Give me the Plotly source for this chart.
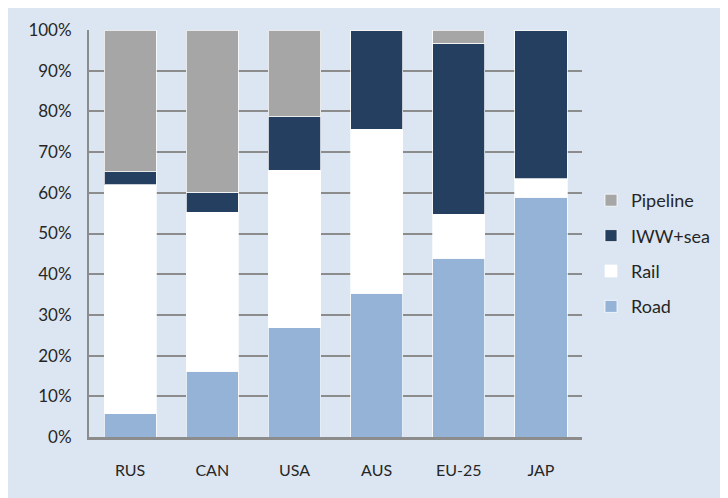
import plotly.graph_objects as go

categories = ["RUS", "CAN", "USA", "AUS", "EU-25", "JAP"]
road = [5.7, 16.2, 26.8, 35.3, 43.9, 58.9]
rail = [56.3, 39.0, 38.8, 40.3, 10.8, 4.5]
iww_sea = [3.2, 4.9, 13.1, 24.4, 42.0, 36.6]
pipeline = [34.8, 39.9, 21.3, 0.0, 3.3, 0.0]
y_ticks = [0, 10, 20, 30, 40, 50, 60, 70, 80, 90, 100]
y_tick_labels = [f"{v}%" for v in y_ticks]

series = [
    ("Road", road, "#95B3D7"),
    ("Rail", rail, "#FFFFFF"),
    ("IWW+sea", iww_sea, "#243F60"),
    ("Pipeline", pipeline, "#A6A6A6"),
]

fig = go.Figure()
for i, (name, vals, col) in enumerate(series):
    fig.add_trace(go.Bar(
        x=categories, y=vals, name=name, legendgroup=name, legendrank=100 - i,
        marker=dict(color=col, line=dict(color="rgba(255,255,255,0.75)", width=1)),
    ))

# the page body adds an 8px offset, so work in figure coordinates (screen - 8)
W, H = 720, 490
L, R, T, B = 81, 146, 22, 61
pw, ph = W - L - R, H - T - B

fig.update_layout(
    width=W, height=H,
    barmode="stack", bargap=0.365,
    paper_bgcolor="#DCE6F2", plot_bgcolor="rgba(0,0,0,0)",
    margin=dict(l=L, r=R, t=T, b=B, pad=0, autoexpand=False),
    font=dict(family="Lato, Open Sans, sans-serif", color="#262626"),
    legend=dict(x=(583 - L) / pw, xanchor="left", y=(H - B - 174) / ph, yanchor="top",
                traceorder="grouped", tracegroupgap=9,
                font=dict(size=18, color="#262626"), bgcolor="rgba(0,0,0,0)",
                itemwidth=30),
    xaxis=dict(showline=True, linecolor="#8C8C8C", linewidth=3, showgrid=False,
               ticks="", tickfont=dict(size=16), ticklabelstandoff=17),
    yaxis=dict(range=[0, 100], tickvals=y_ticks, ticktext=y_tick_labels,
               showgrid=True, gridcolor="#8C8C8C", gridwidth=2,
               showline=True, linecolor="#8C8C8C", linewidth=2,
               zeroline=False, ticks="", tickfont=dict(size=17), ticklabelstandoff=12),
)

fig.write_html("out.html")
